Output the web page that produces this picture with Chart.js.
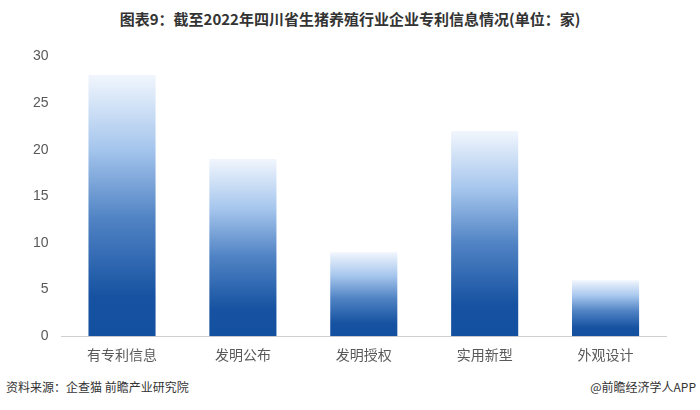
<!DOCTYPE html>
<html>
<head>
<meta charset="utf-8">
<script src="https://cdn.jsdelivr.net/npm/chart.js@4.4.0/dist/chart.umd.min.js"></script>
<style>
  body { margin: 0; background: #fff; font-family: "Noto Sans CJK SC", sans-serif; }
  #wrap { position: relative; width: 700px; height: 410px; }
  #title { position: absolute; top: 8px; left: 0; width: 700px; text-align: center; font-size: 15px; font-weight: bold; color: #333; }
  #box { position: absolute; top: 35px; left: 20px; width: 660px; height: 338px; }
  #src { position: absolute; top: 378px; left: 6px; font-size: 12px; color: #333; }
  #app { position: absolute; top: 378px; right: 4px; font-size: 12px; color: #333; }
</style>
</head>
<body>
<div id="wrap">
  <div id="title">图表9：截至2022年四川省生猪养殖行业企业专利信息情况(单位：家)</div>
  <div id="box"><canvas id="myChart"></canvas></div>
  <div id="src">资料来源：企查猫 前瞻产业研究院</div>
  <div id="app">@前瞻经济学人APP</div>
</div>
<script>
const categories = ['有专利信息', '发明公布', '发明授权', '实用新型', '外观设计'];
const counts = [28, 19, 9, 22, 6];
const yTicks = [0, 5, 10, 15, 20, 25, 30];

// each bar gets its own gradient, dark at the base fading to white at the top
function barGradient(context) {
  const chart = context.chart;
  const y = chart.scales.y;
  const v = counts[context.dataIndex];
  if (!y || v === undefined) return '#1450a0';
  const bottom = y.getPixelForValue(0);
  const top = y.getPixelForValue(v);
  if (!isFinite(bottom) || !isFinite(top) || bottom === top) return '#1450a0';
  const g = chart.ctx.createLinearGradient(0, bottom, 0, top);
  g.addColorStop(0, '#13509f');
  g.addColorStop(0.15, '#1652a1');
  g.addColorStop(0.45, '#5083c4');
  g.addColorStop(0.72, '#a6c6ed');
  g.addColorStop(1, '#f1f6fd');
  return g;
}

const ctx = document.getElementById('myChart').getContext('2d');
new Chart(ctx, {
  type: 'bar',
  data: {
    labels: categories,
    datasets: [{
      data: counts,
      backgroundColor: barGradient,
      borderWidth: 0,
      categoryPercentage: 1,
      barPercentage: 0.555
    }]
  },
  options: {
    responsive: true,
    maintainAspectRatio: false,
    animation: false,
    layout: { padding: { left: 0, right: 14, top: 12, bottom: 0 } },
    plugins: { legend: { display: false }, tooltip: { enabled: false } },
    scales: {
      x: {
        grid: { display: false, drawTicks: false },
        border: { color: '#d0d0d0' },
        ticks: { color: '#595959', font: { size: 14, family: 'Noto Sans CJK SC' }, padding: 10 }
      },
      y: {
        min: 0,
        max: 30,
        afterBuildTicks: axis => { axis.ticks = yTicks.map(v => ({ value: v })); },
        grid: { display: false, drawTicks: false },
        border: { display: false },
        ticks: { color: '#595959', font: { size: 14, family: 'Liberation Sans' }, padding: 13 }
      }
    }
  }
});
</script>
</body>
</html>
